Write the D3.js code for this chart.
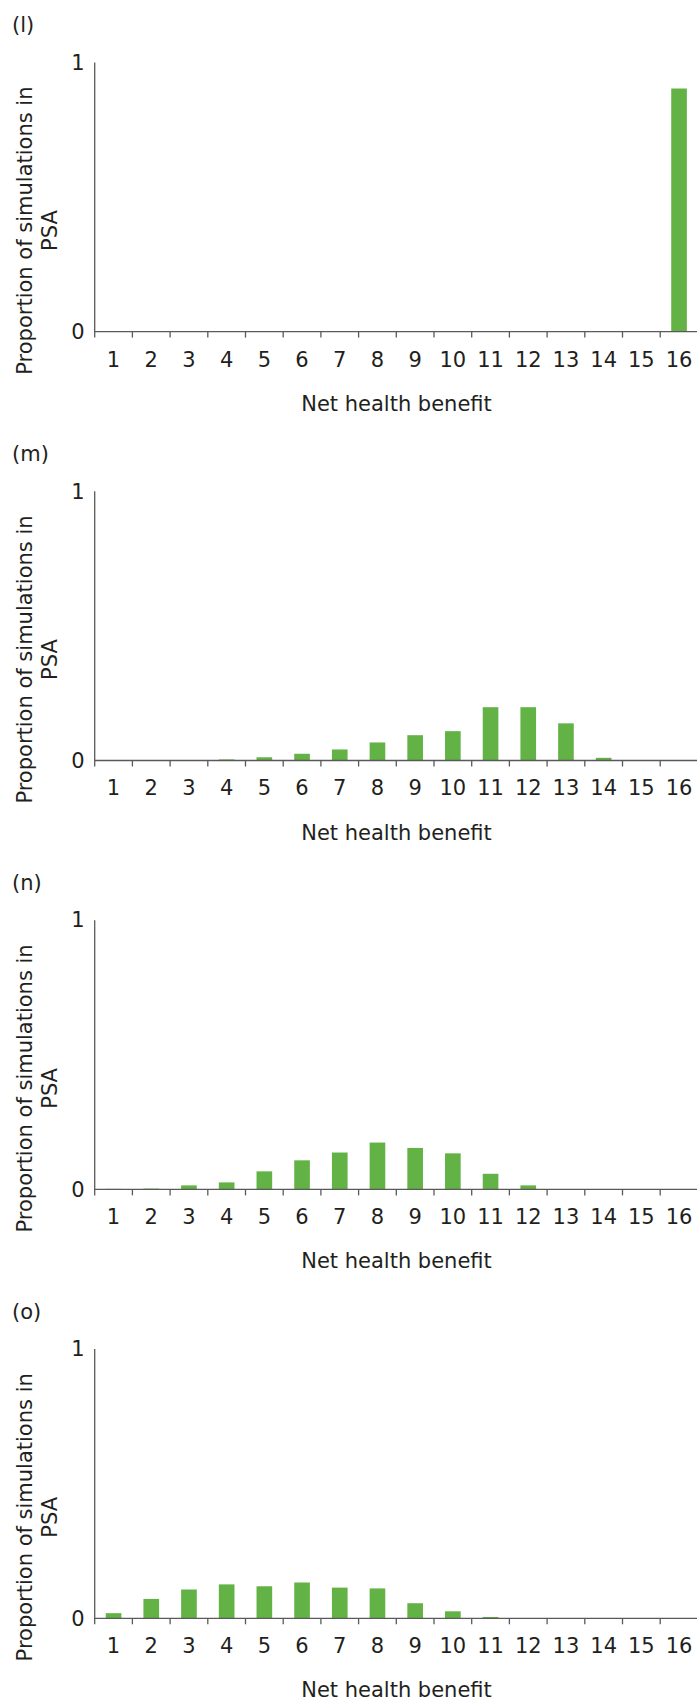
<!DOCTYPE html>
<html>
<head>
<meta charset="utf-8">
<script src="https://cdn.jsdelivr.net/npm/d3@7"></script>
<style>
  html, body { margin: 0; padding: 0; background: #fff; }
  svg { display: block; }
  text { font-family: "DejaVu Sans", sans-serif; fill: #231f20; }
</style>
</head>
<body>
<div id="chart"></div>
<script>
// Categories (net health benefit bins)
const categories = ["1","2","3","4","5","6","7","8","9","10","11","12","13","14","15","16"];

// Panel labels
const panelLabels = ["(l)", "(m)", "(n)", "(o)"];

// Series values: proportion of simulations in PSA
const valuesL = [0, 0, 0, 0, 0, 0, 0, 0, 0, 0, 0, 0, 0, 0, 0, 0.903];
const valuesM = [0, 0, 0, 0.004, 0.012, 0.025, 0.041, 0.067, 0.094, 0.109, 0.198, 0.198, 0.138, 0.01, 0, 0];
const valuesN = [0.002, 0.003, 0.015, 0.026, 0.067, 0.108, 0.137, 0.174, 0.154, 0.134, 0.058, 0.015, 0.001, 0, 0, 0];
const valuesO = [0.019, 0.072, 0.107, 0.126, 0.119, 0.133, 0.114, 0.111, 0.056, 0.026, 0.005, 0, 0, 0, 0, 0];

// Y tick labels
const yTicks = [0, 1];

// Axis titles
const xTitle = "Net health benefit";
const yTitleLines = ["Proportion of simulations in", "PSA"];

const W = 697, H = 1699;
const panels = [valuesL, valuesM, valuesN, valuesO];

const svg = d3.select("#chart").append("svg")
  .attr("width", W).attr("height", H);

const axisX0 = 94.7, axisX1 = 697.9;
const plotH = 269.2;
const firstTop = 62.4;
const panelStep = 428.9;
const barColor = "#63b246";
const axisColor = "#5a5a5a";

const x = d3.scaleBand().domain(categories).range([axisX0, axisX1]).paddingInner(0).paddingOuter(0);
const barW = x.bandwidth() * 0.415;

panels.forEach((vals, i) => {
  const top = firstTop + i * panelStep;
  const base = top + plotH;
  const y = d3.scaleLinear().domain([0, 1]).range([base, top]);
  const g = svg.append("g");

  // Panel label
  g.append("text")
    .attr("x", 12)
    .attr("y", top - 30)
    .attr("font-size", 21)
    .text(panelLabels[i]);

  // Bars
  g.selectAll("rect.bar")
    .data(categories.map((c, k) => ({ c, v: vals[k] })))
    .join("rect")
    .attr("class", "bar")
    .attr("x", d => x(d.c) + (x.bandwidth() - barW) / 2)
    .attr("width", barW)
    .attr("y", d => y(d.v))
    .attr("height", d => Math.max(0, y(0) - y(d.v)))
    .attr("fill", barColor);

  // Y axis
  const yAxis = d3.axisLeft(y).tickValues(yTicks).tickSize(0).tickPadding(10)
    .tickFormat(d3.format("d"));
  const ya = g.append("g").attr("transform", `translate(${axisX0},0)`).call(yAxis);
  ya.select(".domain").attr("stroke", axisColor).attr("stroke-width", 1.3)
    .attr("d", `M0,${top}V${base + 6}`);
  ya.selectAll("text").attr("font-size", 21).attr("font-family", "DejaVu Sans").attr("fill", "#231f20");

  // X axis: labels at band centres
  const xAxis = d3.axisBottom(x).tickSize(0).tickPadding(20);
  const xa = g.append("g").attr("transform", `translate(0,${base})`).call(xAxis);
  xa.select(".domain").attr("stroke", axisColor).attr("stroke-width", 1.3)
    .attr("d", `M${axisX0},0H${axisX1}`);
  xa.selectAll("text").attr("font-size", 21).attr("font-family", "DejaVu Sans").attr("fill", "#231f20");

  // Boundary ticks between bands
  g.selectAll("line.btick")
    .data(categories.slice(1))
    .join("line")
    .attr("class", "btick")
    .attr("x1", d => x(d)).attr("x2", d => x(d))
    .attr("y1", base).attr("y2", base + 6)
    .attr("stroke", axisColor).attr("stroke-width", 1.3);

  // X title
  g.append("text")
    .attr("x", (300 + 493) / 2)
    .attr("y", base + 79)
    .attr("text-anchor", "middle")
    .attr("font-size", 21)
    .text(xTitle);

  // Y title (two lines, rotated)
  const cy = base - 101;
  const yt = g.append("text")
    .attr("transform", `translate(32,${cy}) rotate(-90)`)
    .attr("text-anchor", "middle")
    .attr("font-size", 21);
  yt.append("tspan").attr("x", 0).attr("dy", 0).text(yTitleLines[0]);
  yt.append("tspan").attr("x", 0).attr("dy", 24.5).text(yTitleLines[1]);
});
</script>
</body>
</html>
